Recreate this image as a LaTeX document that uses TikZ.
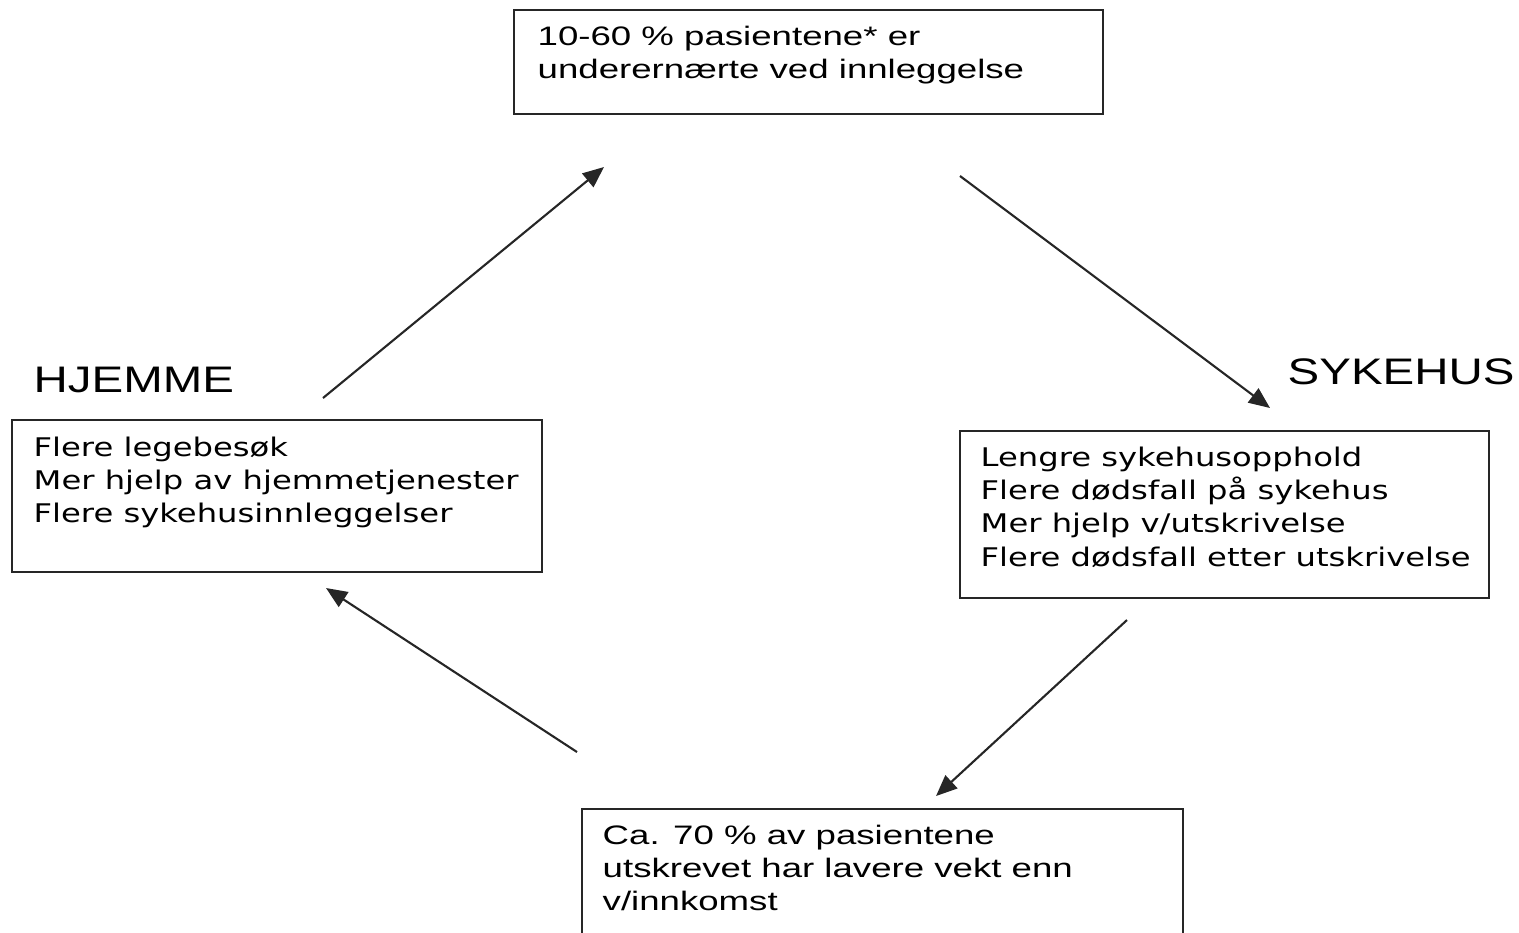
\documentclass[tikz,border=0pt]{standalone}
\usepackage{fontspec}
\setmainfont{Liberation Sans}
\newfontfamily\verd{DejaVu Sans}
\usetikzlibrary{arrows.meta}
\newcommand{\wideA}[1]{\scalebox{1.37}[1]{\begin{tabular}{@{}l@{}}#1\end{tabular}}}
\newcommand{\wideV}[1]{\scalebox{1.255}[1]{\begin{tabular}{@{}l@{}}#1\end{tabular}}}
\newcommand{\wideL}[1]{\scalebox{1.285}[1]{#1}}
\begin{document}
\begin{tikzpicture}[x=0.01cm,y=-0.01cm,
  boxst/.style={draw=black!85,line width=0.6pt},
  txtA/.style={anchor=north west,inner sep=0pt,font=\fontsize{7.6}{9.5}\selectfont},
  txtV/.style={anchor=north west,inner sep=0pt,font=\verd\fontsize{7.3}{9.5}\selectfont},
  lbl/.style={anchor=west,inner sep=0pt,font=\fontsize{10.5}{12}\selectfont},
  arr/.style={draw=black!85,line width=0.6pt,-{Triangle[length=6pt,width=5pt]}}]
\useasboundingbox (0,0) rectangle (1519,932);
\draw[boxst] (514,10) rectangle (1103,114);
\draw[boxst] (12,420) rectangle (542,572);
\draw[boxst] (960,431) rectangle (1489,598);
\draw[boxst] (582,809) rectangle (1183,940);
\node[txtA] (t1) at (537,21) {\wideA{10-60 \% pasientene* er\\underernærte ved innleggelse}};
\node[txtV] (t2) at (33,432) {\wideV{Flere legebesøk\\Mer hjelp av hjemmetjenester\\Flere sykehusinnleggelser}};
\node[txtV] (t3) at (980,442) {\wideV{Lengre sykehusopphold\\Flere dødsfall på sykehus\\Mer hjelp v/utskrivelse\\Flere dødsfall etter utskrivelse}};
\node[txtA] (t4) at (602,820) {\wideA{Ca. 70 \% av pasientene\\utskrevet har lavere vekt enn\\v/innkomst}};
\node[lbl] (h) at (33,380) {\wideL{HJEMME}};
\node[lbl] (s) at (1287,372) {\wideL{SYKEHUS}};
\coordinate (a1s) at (323,398); \coordinate (a1e) at (604,167);
\coordinate (a2s) at (960,176); \coordinate (a2e) at (1270,408);
\coordinate (a3s) at (1127,620); \coordinate (a3e) at (936,796);
\coordinate (a4s) at (577,752); \coordinate (a4e) at (326,588);
\draw[arr] (a1s) -- (a1e);
\draw[arr] (a2s) -- (a2e);
\draw[arr] (a3s) -- (a3e);
\draw[arr] (a4s) -- (a4e);
\end{tikzpicture}
\end{document}
